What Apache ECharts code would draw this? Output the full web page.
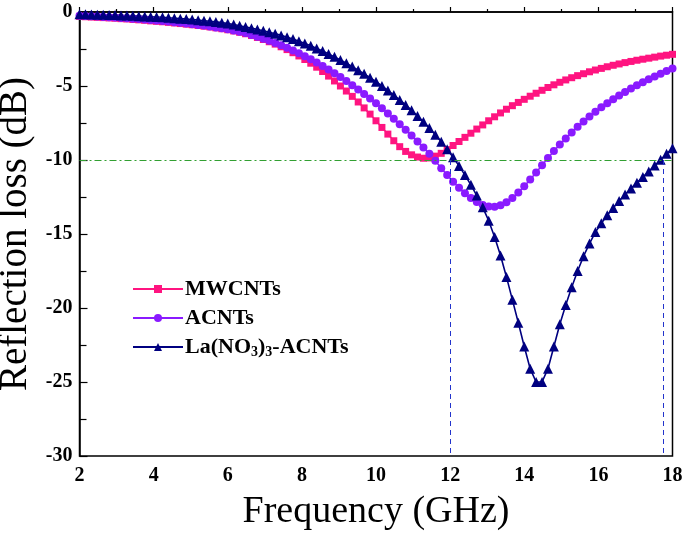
<!DOCTYPE html>
<html>
<head>
<meta charset="utf-8">
<script src="https://cdn.jsdelivr.net/npm/echarts@6/dist/echarts.min.js"></script>
<style>html,body{margin:0;padding:0;background:#fff;}#c{width:685px;height:533px;}</style>
</head>
<body>
<div id="c"></div>
<script>
// Frequency grid (GHz)
var freq = [2.00,2.16,2.32,2.48,2.64,2.80,2.96,3.12,3.28,3.44,3.60,3.76,3.92,4.08,4.24,4.40,4.56,4.72,4.88,5.04,
5.20,5.36,5.52,5.68,5.84,6.00,6.16,6.32,6.48,6.64,6.80,6.96,7.12,7.28,7.44,7.60,7.76,7.92,8.08,8.24,
8.40,8.56,8.72,8.88,9.04,9.20,9.36,9.52,9.68,9.84,10.00,10.16,10.32,10.48,10.64,10.80,10.96,11.12,11.28,11.44,
11.60,11.76,11.92,12.08,12.24,12.40,12.56,12.72,12.88,13.04,13.20,13.36,13.52,13.68,13.84,14.00,14.16,14.32,14.48,14.64,
14.80,14.96,15.12,15.28,15.44,15.60,15.76,15.92,16.08,16.24,16.40,16.56,16.72,16.88,17.04,17.20,17.36,17.52,17.68,17.84,18.00];

var mwcnts = [-0.30,-0.32,-0.34,-0.36,-0.38,-0.40,-0.42,-0.45,-0.47,-0.50,-0.53,-0.56,-0.60,-0.63,-0.66,-0.70,-0.74,-0.78,-0.82,-0.86,
-0.91,-0.96,-1.01,-1.07,-1.13,-1.20,-1.28,-1.37,-1.47,-1.59,-1.72,-1.86,-2.01,-2.17,-2.35,-2.54,-2.75,-2.97,-3.21,-3.46,
-3.73,-4.02,-4.33,-4.66,-5.00,-5.34,-5.70,-6.08,-6.48,-6.90,-7.35,-7.80,-8.25,-8.70,-9.10,-9.42,-9.65,-9.80,-9.88,-9.86,
-9.74,-9.55,-9.30,-9.02,-8.75,-8.47,-8.19,-7.91,-7.63,-7.35,-7.08,-6.82,-6.57,-6.33,-6.11,-5.90,-5.69,-5.49,-5.29,-5.10,
-4.92,-4.75,-4.59,-4.44,-4.30,-4.17,-4.04,-3.92,-3.81,-3.70,-3.60,-3.51,-3.42,-3.34,-3.26,-3.19,-3.12,-3.05,-2.98,-2.92,-2.86];

var acnts = [-0.25,-0.27,-0.29,-0.31,-0.33,-0.35,-0.37,-0.40,-0.42,-0.45,-0.48,-0.51,-0.54,-0.57,-0.61,-0.65,-0.69,-0.73,-0.77,-0.82,
-0.87,-0.92,-0.98,-1.04,-1.10,-1.17,-1.25,-1.33,-1.42,-1.55,-1.67,-1.80,-1.94,-2.09,-2.25,-2.42,-2.60,-2.79,-2.99,-3.20,
-3.42,-3.65,-3.89,-4.14,-4.40,-4.67,-4.95,-5.24,-5.54,-5.85,-6.17,-6.50,-6.85,-7.21,-7.58,-7.96,-8.35,-8.75,-9.16,-9.58,
-10.05,-10.55,-11.02,-11.47,-11.88,-12.25,-12.57,-12.84,-13.04,-13.15,-13.16,-13.06,-12.86,-12.57,-12.20,-11.78,-11.32,-10.84,-10.35,-9.86,
-9.40,-8.96,-8.54,-8.14,-7.76,-7.40,-7.06,-6.74,-6.44,-6.16,-5.89,-5.64,-5.40,-5.17,-4.95,-4.74,-4.54,-4.35,-4.17,-3.99,-3.82];

var laAcnts = [-0.15,-0.16,-0.17,-0.18,-0.19,-0.20,-0.21,-0.23,-0.24,-0.26,-0.28,-0.30,-0.32,-0.34,-0.36,-0.39,-0.42,-0.45,-0.48,-0.51,
-0.55,-0.59,-0.63,-0.67,-0.72,-0.78,-0.85,-0.93,-1.01,-1.09,-1.18,-1.27,-1.37,-1.47,-1.58,-1.70,-1.83,-1.97,-2.12,-2.28,
-2.46,-2.64,-2.83,-3.03,-3.24,-3.46,-3.69,-3.93,-4.18,-4.44,-4.71,-5.00,-5.30,-5.61,-5.94,-6.28,-6.64,-7.02,-7.42,-7.84,
-8.29,-8.77,-9.28,-9.82,-10.40,-11.02,-11.68,-12.40,-13.20,-14.10,-15.20,-16.45,-17.90,-19.45,-21.00,-22.60,-24.10,-25.00,-25.00,-24.10,
-22.60,-21.10,-19.80,-18.60,-17.50,-16.50,-15.65,-14.87,-14.28,-13.74,-13.24,-12.77,-12.33,-11.92,-11.53,-11.15,-10.77,-10.38,-9.98,-9.58,-9.20];

var seriesNames = ['MWCNTs', 'ACNTs', 'La(NO3)3-ACNTs'];
var xTicks = [2, 4, 6, 8, 10, 12, 14, 16, 18];
var yTicks = [0, -5, -10, -15, -20, -25, -30];
var refLevel = -10;
var bandEdges = [12.0, 17.75];

function pairs(ys) { return freq.map(function (f, i) { return [f, ys[i]]; }); }

var serif = '"Liberation Serif", "Times New Roman", serif';
var chart = echarts.init(document.getElementById('c'));
chart.setOption({
  animation: false,
  backgroundColor: '#fff',
  grid: { left: 79.5, right: 12.5, top: 12, bottom: 77, containLabel: false, outerBoundsMode: 'none',
    show: true, borderColor: '#000', borderWidth: 1.5, backgroundColor: 'transparent' },
  legend: {
    orient: 'vertical', left: 127, top: 273, itemWidth: 50, itemHeight: 10, itemGap: 7,
    data: seriesNames,
    formatter: function (n) { return n === seriesNames[2] ? 'La(NO{s|3}){s|3}-ACNTs' : n; },
    textStyle: { fontFamily: serif, fontSize: 22, fontWeight: 'bold', color: '#000', padding: [0, 0, 0, -3],
      rich: { s: { fontFamily: serif, fontSize: 14, fontWeight: 'bold', verticalAlign: 'bottom', padding: [10, 0, 0, 0] } } }
  },
  xAxis: {
    type: 'value', min: xTicks[0], max: xTicks[xTicks.length - 1], interval: 2,
    name: 'Frequency (GHz)', nameLocation: 'middle', nameGap: 37,
    nameTextStyle: { fontFamily: serif, fontSize: 38, color: '#000' },
    axisLine: { lineStyle: { color: '#000', width: 1.5 } },
    axisTick: { inside: true, length: 5, lineStyle: { color: '#000', width: 1.2 } },
    minorTick: { show: true, splitNumber: 2, length: 3, lineStyle: { color: '#000', width: 1.2 } },
    axisLabel: { fontFamily: serif, fontSize: 20, fontWeight: 'bold', color: '#000', margin: 10 },
    splitLine: { show: false }
  },
  yAxis: {
    type: 'value', min: yTicks[yTicks.length - 1], max: yTicks[0], interval: 5,
    name: 'Reflection loss (dB)', nameLocation: 'middle', nameGap: 44,
    nameTextStyle: { fontFamily: serif, fontSize: 39, color: '#000' },
    axisLine: { lineStyle: { color: '#000', width: 1.5 } },
    axisTick: { inside: true, length: 8, lineStyle: { color: '#000', width: 1.2 } },
    minorTick: { show: true, splitNumber: 2, length: 7, lineStyle: { color: '#000', width: 1.2 } },
    axisLabel: { fontFamily: serif, fontSize: 20, fontWeight: 'bold', color: '#000', margin: 7 },
    splitLine: { show: false }
  },
  series: [
    { name: seriesNames[0], type: 'line', data: pairs(mwcnts), symbol: 'rect', symbolSize: 7, showAllSymbol: true,
      itemStyle: { color: '#ff1480' }, lineStyle: { color: '#ff1480', width: 1.5 } },
    { name: seriesNames[1], type: 'line', data: pairs(acnts), symbol: 'circle', symbolSize: 8, showAllSymbol: true,
      itemStyle: { color: '#8a1aff' }, lineStyle: { color: '#8a1aff', width: 1.5 } },
    { name: seriesNames[2], type: 'line', data: pairs(laAcnts), symbol: 'triangle', symbolSize: 10, showAllSymbol: true,
      itemStyle: { color: '#000080' }, lineStyle: { color: '#000080', width: 1.6 },
      markLine: { silent: true, symbol: 'none', label: { show: false },
        data: [
          { yAxis: refLevel, lineStyle: { color: '#32a032', width: 1, type: [7, 3, 2, 3] } },
          [{ coord: [bandEdges[0], refLevel], lineStyle: { color: '#2233cc', width: 1, type: [5, 4] } }, { coord: [bandEdges[0], yTicks[yTicks.length - 1]] }],
          [{ coord: [bandEdges[1], refLevel], lineStyle: { color: '#2233cc', width: 1, type: [5, 4] } }, { coord: [bandEdges[1], yTicks[yTicks.length - 1]] }]
        ] } }
  ]
});
</script>
</body>
</html>
